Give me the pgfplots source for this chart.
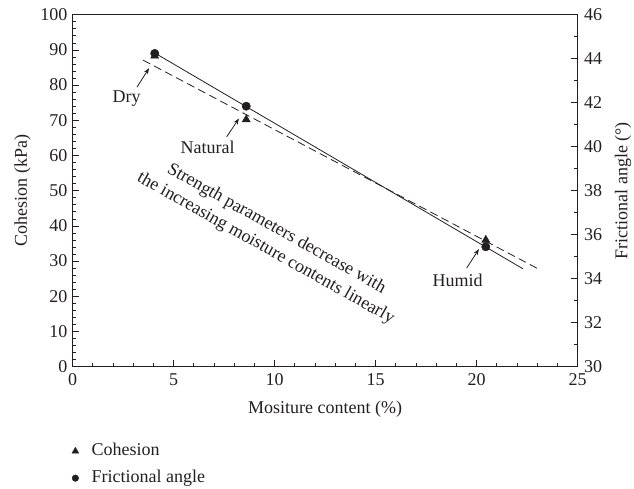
\documentclass[border=0pt]{standalone}
\usepackage{fontspec}
\setmainfont{Liberation Serif}
\usepackage{pgfplots}
\pgfplotsset{compat=1.18}
\usetikzlibrary{arrows.meta}
\definecolor{ink}{HTML}{231F20}
\pgfplotsset{
  myleg/.style={legend image code/.code={\path (0pt,0pt) (18pt,0pt); \draw[##1, mark size=#1] plot coordinates {(4pt,0pt)};}}
}
\begin{document}
\begin{tikzpicture}[x=1pt,y=1pt]
\useasboundingbox (0,0) rectangle (634,489);
\pgfplotsset{
  every axis/.append style={
    scale only axis, width=505pt, height=352pt,
    at={(72.5pt,122.3pt)}, anchor=south west,
    xmin=0, xmax=25,
    font=\fontsize{18}{21}\selectfont,
    /pgf/number format/assume math mode=true,
    tick align=inside,
    major tick length=6.5pt, minor tick length=3.5pt,
    axis line style={ink, line width=0.8pt},
    every tick/.style={ink, line width=0.7pt},
    tick label style={text=ink},
    label style={text=ink},
  }
}
\begin{axis}[
  ymin=0, ymax=100,
  xtick={0,5,...,25}, minor x tick num=4,
  ytick={0,10,...,100}, minor y tick num=4,
  xtick pos=bottom, ytick pos=left,
  xticklabel style={yshift=-3pt},
  yticklabel style={xshift=-1.5pt},
  xlabel={Mositure content (\%)},
  ylabel={Cohesion (kPa)},
  xlabel style={at={(axis description cs:0.5,-0.134)}, anchor=base},
  ylabel style={at={(axis description cs:-0.099,0.5)}, anchor=center},
]
\addplot[only marks, mark=triangle*, ink, mark size=4.7pt] coordinates {
  (4.07,88.3) (8.6,70.2) (20.46,36.0)
};
\addplot[ink, line width=0.8pt, dash pattern=on 8pt off 4.5pt] coordinates {
  (3.49,87.1) (23.15,27.5)
};
\node[text=ink] at (axis cs:2.68,76.2) {Dry};
\node[text=ink] at (axis cs:6.69,62.2) {Natural};
\node[text=ink] at (axis cs:19.07,24.6) {Humid};
\draw[ink, line width=0.8pt, -{Stealth[length=6pt,width=4.5pt]}] (axis cs:3.19,79.4) -- (axis cs:3.79,84.8);
\draw[ink, line width=0.8pt, -{Stealth[length=6pt,width=4.5pt]}] (axis cs:7.63,65.3) -- (axis cs:8.24,70.5);
\draw[ink, line width=0.8pt, -{Stealth[length=6pt,width=4.5pt]}] (axis cs:19.51,28.0) -- (axis cs:20.12,33.4);
\node[text=ink, rotate=-29.3, align=center, font=\fontsize{18}{22}\selectfont] at (axis cs:9.83,36.3)
  {Strength parameters decrease with\\the increasing moisture contents linearly};
\end{axis}
\begin{axis}[
  ymin=30, ymax=46,
  axis x line=none, axis y line*=right,
  ytick={30,32,...,46}, minor y tick num=1,
  ytick pos=right,
  yticklabel style={xshift=3pt},
  ylabel={Frictional angle (°)},
  ylabel style={at={(axis description cs:1.09,0.5)}, anchor=center},
  legend style={draw=none, fill=none, inner sep=0pt,
    at={(axis description cs:-0.003,-0.211)}, anchor=north west,
    row sep=7pt,
    nodes={inner sep=2pt, text height=12pt, text depth=4pt, text=ink}},
  legend cell align=left,
]
\addlegendimage{only marks, mark=triangle*, ink, myleg=3.9pt}
\addlegendentry{Cohesion}
\addplot[only marks, mark=*, ink, mark size=4.2pt, myleg=3.3pt] coordinates {
  (4.07,44.24) (8.6,41.84) (20.46,35.45)
};
\addlegendentry{Frictional angle}
\addplot[ink, line width=0.8pt, forget plot] coordinates {
  (4.07,44.26) (22.3,34.45)
};
\end{axis}
\end{tikzpicture}
\end{document}
